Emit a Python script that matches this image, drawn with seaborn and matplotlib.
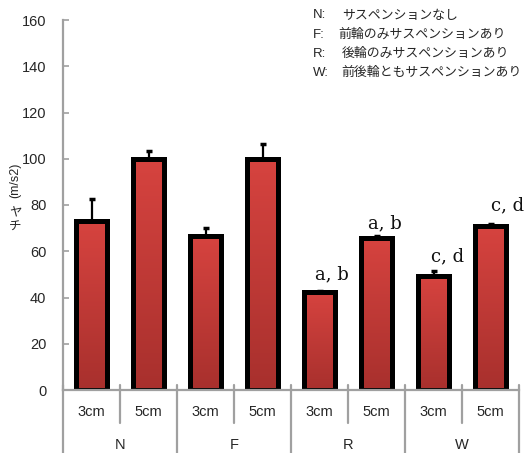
import numpy as np
import pandas as pd
import matplotlib
matplotlib.use('Agg')
import matplotlib.pyplot as plt
import matplotlib.transforms as mtransforms
import seaborn as sns
from matplotlib.colors import LinearSegmentedColormap

# --- datos ---
groups = ['N', 'F', 'R', 'W']
heights = ['3cm', '5cm']
values = [72.9, 99.7, 66.8, 99.7, 42.2, 65.9, 49.1, 71.1]
errors = [9.7, 3.7, 3.2, 6.7, 0.5, 0.7, 2.4, 0.7]
letters = ['', '', '', '', 'a, b', 'a, b', 'c, d', 'c, d']
letter_y = [0, 0, 0, 0, 50.2, 72.2, 57.9, 80.0]
legend_keys = ['N:', 'F:', 'R:', 'W:']
legend_texts = ['サスペンションなし', '前輪のみサスペンションあり',
                '後輪のみサスペンションあり', '前後輪ともサスペンションあり']
yticks = list(range(0, 161, 20))

df = pd.DataFrame({
    'group': np.repeat(groups, len(heights)),
    'height': heights * len(groups),
    'value': values,
})
df['bar'] = df['group'] + '_' + df['height']

sns.set_style('white')
plt.rcParams['font.family'] = ['Liberation Sans', 'Noto Sans CJK JP']

W, H = 527, 453
fig = plt.figure(figsize=(W / 100, H / 100), dpi=100)
ax = fig.add_axes([63 / W, 1 - 390 / H, 456 / W, 370 / H])

sns.barplot(data=df, x='bar', y='value', color='#c83c38', saturation=1,
            width=0.53, edgecolor='black', linewidth=3.6, ax=ax, zorder=2)

# relleno degradado dentro de cada barra
cmap = LinearSegmentedColormap.from_list('rojo', ['#a8302d', '#d6433f'])
grad = np.linspace(0, 1, 100).reshape(-1, 1)
for p in list(ax.patches):
    x0, y0 = p.get_x(), p.get_y()
    w, h = p.get_width(), p.get_height()
    im = ax.imshow(grad, extent=[x0, x0 + w, y0, y0 + h], origin='lower',
                   aspect='auto', cmap=cmap, zorder=1.5)
    im.set_clip_path(p)
    p.set_facecolor('none')

# barras de error (solo hacia arriba)
xs = np.arange(len(values))
ax.errorbar(xs, values, yerr=[np.zeros(len(values)), errors], fmt='none',
            ecolor='black', elinewidth=1.6, capsize=2.5, capthick=2.5, zorder=3)

# letras de significancia
for i, (t, yy) in enumerate(zip(letters, letter_y)):
    if t:
        off = [0, 0, 0, 0, 0.22, 0.15, 0.24, 0.30][i]
        ax.text(i + off, yy, t, ha='center', va='center', fontsize=13,
                family='DejaVu Serif', color='#111111')

ax.set_xlim(-0.5, len(values) - 0.5)
ax.set_ylim(0, 160)
ax.set_yticks(yticks)
ax.set_yticklabels([str(v) for v in yticks], fontsize=10.5)
ax.tick_params(axis='y', direction='in', length=4, width=1.2, color='#a0a0a0', pad=12, left=True)
ax.set_xticks(xs)
ax.set_xticklabels([])
ax.tick_params(axis='x', length=0)
ax.set_xlabel('')
ax.set_ylabel('')
sns.despine(ax=ax)
for s in ['left', 'bottom']:
    ax.spines[s].set_color('#a0a0a0')
    ax.spines[s].set_linewidth(1.6)

# etiquetas de dos niveles en el eje x
trans = mtransforms.blended_transform_factory(ax.transData, ax.transAxes)
for i, hlab in enumerate(df['height']):
    ax.text(i, -22 / 370, hlab, transform=trans, ha='center', va='center', fontsize=10.5)
for j, g in enumerate(groups):
    ax.text(2 * j + 0.5, -55 / 370, g, transform=trans, ha='center', va='center', fontsize=10.5)
for j in range(len(groups)):
    ax.plot([2 * j + 0.5] * 2, [5 / 370, -33 / 370], transform=trans,
            color='#a0a0a0', lw=1.6, clip_on=False)
for j in range(len(groups) + 1):
    ax.plot([2 * j - 0.5] * 2, [5 / 370, -63 / 370], transform=trans,
            color='#a0a0a0', lw=1.6, clip_on=False)

# leyenda de texto
for k, (key, txt) in enumerate(zip(legend_keys, legend_texts)):
    yy = 1 - (15.5 + 19.2 * k) / H
    fig.text(313 / W, yy, key, ha='left', va='center', fontsize=9.5)
    fig.text([342, 338, 342, 341][k] / W, yy, txt, ha='left', va='center', fontsize=9.3)

# etiqueta del eje y (texto vertical, apilado)
fig.text(15 / W, 1 - 180 / H, '(m/s2)', rotation=90, ha='center', va='center', fontsize=9)
fig.text(15 / W, 1 - 213 / H, 'ヤ', ha='center', va='center', fontsize=9)
fig.text(15 / W, 1 - 228 / H, 'チ', ha='center', va='center', fontsize=9)

fig.savefig('out.png', dpi=100)
